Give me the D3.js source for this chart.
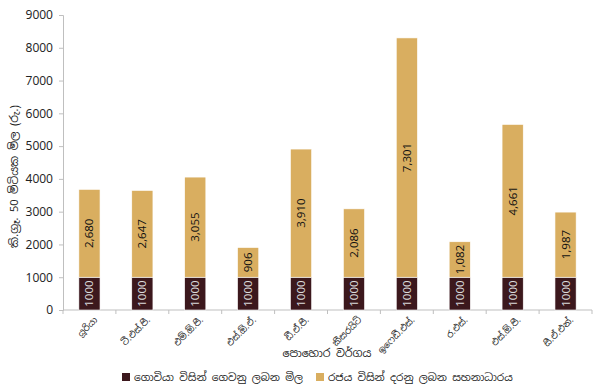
<!DOCTYPE html>
<html><head><meta charset="utf-8">
<script src="https://cdn.jsdelivr.net/npm/d3@7"></script>
<style>
body{margin:0;background:#fff;}
text{font-family:"Noto Sans Sinhala","Liberation Sans","Noto Sans",sans-serif;}
</style></head>
<body><svg id="c" width="593" height="387"></svg>
<script>
const categories = ["යූරියා","ටී.එස්.පී.","එම්.ඕ.පී.","එස්.ඕ.ඒ.","ඩී.ඒ.පී.","කීසරයිට්","ඉෆෙඩී.එස්.","ර.එස්.","එස්.ඕ.පී.","සී.ඒ.එන්."];
const farmerPrice = [1000,1000,1000,1000,1000,1000,1000,1000,1000,1000];
const subsidy = [2680,2647,3055,906,3910,2086,7301,1082,4661,1987];
const yTicks = [0,1000,2000,3000,4000,5000,6000,7000,8000,9000];
const seriesNames = ["ගොවියා විසින් ගෙවනු ලබන මිල","රජය විසින් දරනු ලබන සහනාධාරය"];
const colors = ["#3c181d","#d9ae60"];
const yTitle = "කි.ග්‍රෑ. 50 මිටියක මිල (රු.)";
const xTitle = "පොහොර වර්ගය";

const svg = d3.select("#c");
const L=63, R=592, T=15, B=310;
const x = d3.scaleBand().domain(categories).range([L,R]).paddingInner(0.6).paddingOuter(0.3);
const xb = d3.scaleBand().domain(categories).range([L,R]);
const y = d3.scaleLinear().domain([0,9000]).range([B,T]);
const axisCol="#bfbfbf";

// y axis
const ya = svg.append("g").attr("transform",`translate(${L},0)`)
  .call(d3.axisLeft(y).tickValues(yTicks).tickSize(4).tickPadding(6).tickFormat(d3.format("d")));
ya.select(".domain").attr("stroke",axisCol);
ya.selectAll(".tick line").attr("stroke",axisCol);
ya.selectAll(".tick text").attr("font-size",12).attr("fill","#222").attr("font-family","Liberation Sans, sans-serif");

// x axis
const xa = svg.append("g").attr("transform",`translate(0,${B})`);
xa.append("line").attr("x1",L).attr("x2",R).attr("stroke",axisCol);
const bounds = categories.map(c=>xb(c)).concat([R]);
xa.selectAll("line.t").data(bounds).join("line").attr("class","t")
  .attr("x1",d=>d).attr("x2",d=>d).attr("y1",0).attr("y2",4).attr("stroke",axisCol);
xa.selectAll("text.l").data(categories).join("text").attr("class","l")
  .attr("transform",d=>`translate(${x(d)+x.bandwidth()/2+4},6) rotate(-45)`)
  .attr("text-anchor","end").attr("dy","0.7em").attr("font-size",9).attr("fill","#222").text(d=>d);

// stacks
const data = categories.map((c,i)=>({c, a:farmerPrice[i], b:subsidy[i]}));
const stack = d3.stack().keys(["a","b"])(data);
stack.forEach((s,si)=>{
  svg.append("g").selectAll("rect").data(s).join("rect")
    .attr("x",d=>x(d.data.c)).attr("width",x.bandwidth())
    .attr("y",d=>y(d[1])).attr("height",d=>y(d[0])-y(d[1]))
    .attr("fill",colors[si]).attr("stroke","#fff").attr("stroke-width",0.6);
  svg.append("g").selectAll("text").data(s).join("text")
    .attr("transform",d=>`translate(${x(d.data.c)+x.bandwidth()/2},${(y(d[0])+y(d[1]))/2}) rotate(-90)`)
    .attr("text-anchor","middle").attr("dy","0.35em").attr("font-size",11.5)
    .attr("font-family","Liberation Sans, sans-serif")
    .attr("fill",si===0?"#ddd":"#111")
    .text(d=>si===0?d3.format("d")(d[1]-d[0]):d3.format(",")(d[1]-d[0]));
});

// titles
svg.append("text").attr("transform",`translate(14,${(T+B)/2+14}) rotate(-90)`)
  .attr("text-anchor","middle").attr("dy","0.35em").attr("font-size",11).attr("fill","#222").text(yTitle);
svg.append("text").attr("x",327).attr("y",353).attr("dy","0.35em").attr("text-anchor","middle")
  .attr("font-size",11).attr("fill","#222").text(xTitle);

// legend
const lg = svg.append("g");
const lx=[122,316];
seriesNames.forEach((n,i)=>{
  lg.append("rect").attr("x",lx[i]).attr("y",373).attr("width",8).attr("height",8).attr("fill",colors[i]);
  lg.append("text").attr("x",lx[i]+12).attr("y",377).attr("dy","0.35em").attr("font-size",10.5).attr("fill","#222").text(n);
});
</script></body></html>
